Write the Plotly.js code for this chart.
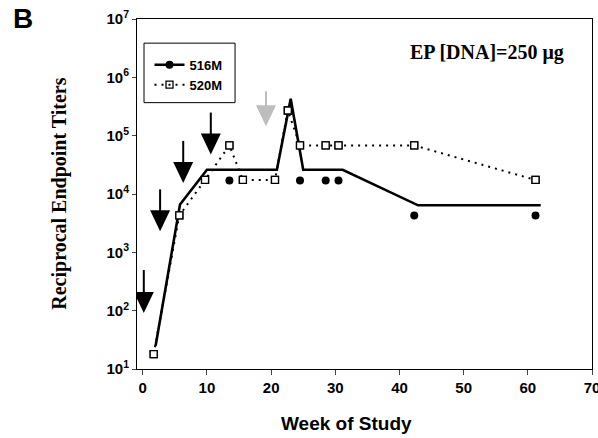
<!DOCTYPE html>
<html>
<head>
<meta charset="utf-8">
<script src="https://cdn.plot.ly/plotly-3.0.1.min.js"></script>
<style>html,body{margin:0;padding:0;background:#fff;}#chart{width:598px;height:438px;}</style>
</head>
<body>
<div id="chart"></div>
<script>
// 516M mean line (solid)
const line516Weeks  = [2.0, 5.8, 10.0, 20.9, 23.05, 25.0, 31.15, 42.9, 62.0];
const line516Titers = [25, 6600, 26000, 26000, 430000, 26000, 26000, 6400, 6400];
// 516M individual points (filled circles)
const pts516Weeks  = [13.5, 24.5, 28.5, 30.5, 42.3, 61.2];
const pts516Titers = [17000, 17000, 17000, 17000, 4300, 4300];
// 520M (open squares, dotted line)
const s520Weeks  = [1.7, 5.7, 9.7, 13.5, 15.6, 20.6, 22.6, 24.5, 28.5, 30.5, 42.3, 61.2];
const s520Titers = [18, 4300, 17400, 68000, 17400, 17400, 270000, 68000, 68000, 68000, 68000, 17400];
// immunization arrows
const arrowWeeks  = [0.16, 2.7, 6.3, 10.6, 19.2];
const arrowTips   = [91, 2290, 15500, 47400, 145000];
const arrowColors = ['#000', '#000', '#000', '#000', '#bdbdbd'];
const arrowShaft  = [23, 22, 22, 22, 15];
// axis ticks
const yTickVals = [1e1, 1e2, 1e3, 1e4, 1e5, 1e6, 1e7];
const yTickText = yTickVals.map(v => '10<sup>' + Math.round(Math.log10(v)) + '</sup>');
const xTickVals = [0, 10, 20, 30, 40, 50, 60, 70];

const traces = [
  {x: [null], y: [null], mode: 'lines+markers', name: '516M',
   line: {color: '#000', width: 2.5}, marker: {symbol: 'circle', size: 8, color: '#000'}},
  {x: s520Weeks, y: s520Titers, mode: 'lines+markers', name: '520M',
   line: {color: '#000', width: 2, dash: '2px,5px'},
   marker: {symbol: 'square-open', size: 7, color: '#000', line: {width: 1.3}}},
  {x: line516Weeks, y: line516Titers, mode: 'lines', showlegend: false,
   line: {color: '#000', width: 2.6}},
  {x: pts516Weeks, y: pts516Titers, mode: 'markers', showlegend: false,
   marker: {symbol: 'circle', size: 8, color: '#000'}},
  {x: s520Weeks, y: s520Titers, mode: 'markers', showlegend: false,
   marker: {symbol: 'square', size: 7, color: '#fff', line: {color: '#000', width: 1.3}}}
];

const shapes = [
  {type: 'rect', xref: 'paper', yref: 'paper', x0: 0.0154, x1: 0.2155, y0: 0.761, y1: 0.931,
   line: {color: '#000', width: 1}, fillcolor: 'rgba(0,0,0,0)', layer: 'above'}
];
arrowWeeks.forEach((w, i) => {
  shapes.push({type: 'path', xref: 'x', yref: 'y', xsizemode: 'pixel', ysizemode: 'pixel',
    xanchor: w, yanchor: arrowTips[i], path: 'M-10,21 L10,21 L0,0 Z',
    fillcolor: arrowColors[i], line: {width: 0}, layer: 'above'});
  shapes.push({type: 'line', xref: 'x', yref: 'y', xsizemode: 'pixel', ysizemode: 'pixel',
    xanchor: w, yanchor: arrowTips[i], x0: 0, x1: 0, y0: 20, y1: 20 + arrowShaft[i],
    line: {color: arrowColors[i], width: 2}, layer: 'above'});
});

const layout = {
  width: 598, height: 438,
  margin: {l: 137, r: 6.3, t: 19.3, b: 68.7},
  paper_bgcolor: '#fff', plot_bgcolor: '#fff',
  showlegend: true,
  legend: {x: 0.0275, y: 0.912, xanchor: 'left', yanchor: 'top',
    borderwidth: 0, bgcolor: 'rgba(0,0,0,0)',
    font: {family: 'Arial, Liberation Sans, sans-serif', size: 13, color: '#000', weight: 'bold'},
    tracegroupgap: 0},
  xaxis: {range: [-0.9, 70], tickvals: xTickVals, ticks: 'outside', ticklen: 5, tickwidth: 1,
    ticklabeloverflow: 'allow',
    showline: true, linecolor: '#000', linewidth: 1, mirror: true, showgrid: false, zeroline: false,
    tickfont: {family: 'Arial, Liberation Sans, sans-serif', size: 15, color: '#000', weight: 'bold'}},
  yaxis: {type: 'log', range: [1, 7], tickvals: yTickVals, ticktext: yTickText,
    ticks: 'outside', ticklen: 4, tickwidth: 1,
    showline: true, linecolor: '#000', linewidth: 1, mirror: true, showgrid: false, zeroline: false,
    tickfont: {family: 'Arial, Liberation Sans, sans-serif', size: 15, color: '#000', weight: 'bold'}},
  shapes: shapes,
  annotations: [
    {text: 'B', xref: 'paper', yref: 'paper', x: -0.278, y: 1.002, xanchor: 'left', yanchor: 'middle',
     showarrow: false, font: {family: 'Arial, Liberation Sans, sans-serif', size: 28, color: '#000', weight: 'bold'}},
    {text: 'EP [DNA]=250 μg', xref: 'paper', yref: 'paper', x: 0.77, y: 0.905, xanchor: 'center', yanchor: 'middle',
     showarrow: false, font: {family: 'Liberation Serif, Times New Roman, serif', size: 20, color: '#000', weight: 'bold'}},
    {text: 'Week of Study', xref: 'paper', yref: 'paper', x: 0.46, y: -0.157, xanchor: 'center', yanchor: 'middle',
     showarrow: false, font: {family: 'Arial, Liberation Sans, sans-serif', size: 19, color: '#000', weight: 'bold'}},
    {text: 'Reciprocal Endpoint Titers', xref: 'paper', yref: 'paper', x: -0.172, y: 0.5, xanchor: 'center', yanchor: 'middle',
     textangle: -90, showarrow: false,
     font: {family: 'Liberation Serif, Times New Roman, serif', size: 20, color: '#000', weight: 'bold'}}
  ]
};

Plotly.newPlot('chart', traces, layout, {displayModeBar: false, staticPlot: true});
</script>
</body>
</html>
